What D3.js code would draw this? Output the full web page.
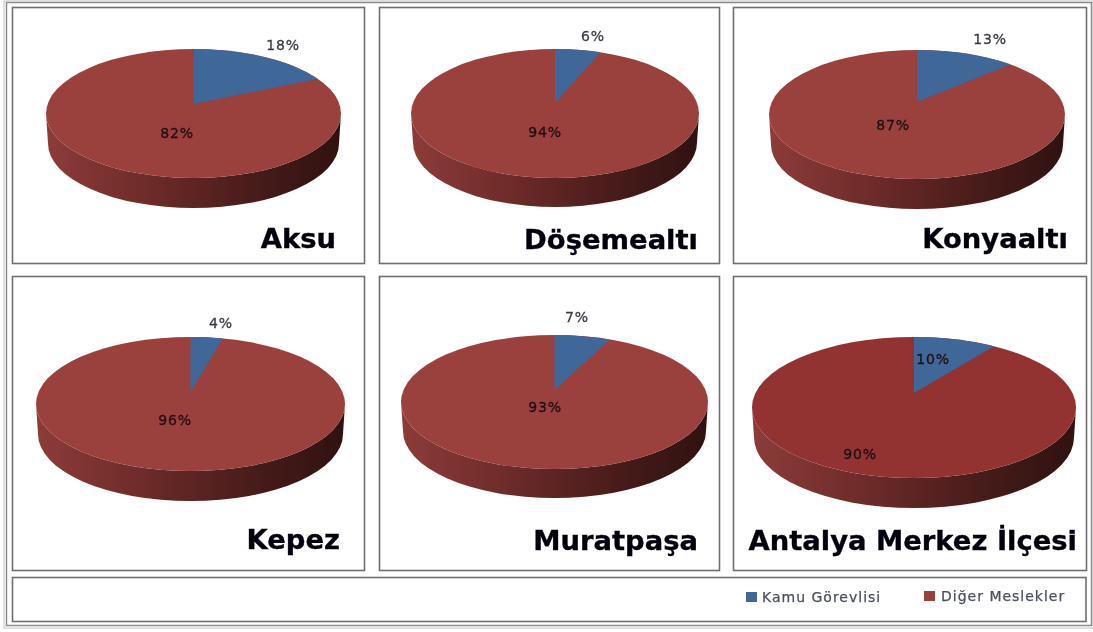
<!DOCTYPE html>
<html><head><meta charset="utf-8">
<script src="https://cdn.jsdelivr.net/npm/d3@7"></script>
<style>html,body{margin:0;padding:0;background:#fff}svg{display:block}</style></head>
<body><svg id="c" width="1093" height="632"></svg>
<script>
const districts = ["Aksu","Döşemealtı","Konyaaltı","Kepez","Muratpaşa","Antalya Merkez İlçesi"];
const kamuValues = [18,6,13,4,7,10];
const digerValues = [82,94,87,96,93,90];
const legendLabels = ["Kamu Görevlisi","Diğer Meslekler"];

const blue="#3f6797", red="#9a403d", redDark="#933331";
const panels=[
 {x:12,y:7,w:352,h:256,cx:193.5,top:49,ry:64.5,rx:147.5,hy:104,depth:30,tx:336,ty:248,lab:[[283,45],[177,133]]},
 {x:379,y:7,w:340,h:256,cx:555,top:49,ry:64.5,rx:144,hy:103,depth:29,tx:698,ty:249,lab:[[593,36],[545,132]]},
 {x:733,y:7,w:353,h:256,cx:917,top:50,ry:64.5,rx:148,hy:102,depth:30,tx:1068,ty:248,lab:[[990,39],[893,125]]},
 {x:12,y:276,w:352,h:294,cx:190.5,top:337,ry:67,rx:154.5,hy:392,depth:30,tx:340,ty:549,lab:[[221,323],[175,420]]},
 {x:379,y:276,w:340,h:294,cx:554.5,top:335,ry:67,rx:153.5,hy:390,depth:29,tx:698,ty:550,lab:[[577,317],[545,407]]},
 {x:733,y:276,w:353,h:294,cx:914,top:337,ry:70.5,rx:162,hy:393,depth:30,tx:1077,ty:550,lab:[[933,359],[860,454]],dark:true}
];
const svg=d3.select("#c");
const defs=svg.append("defs");
const g=defs.append("linearGradient").attr("id","side");
[[0,"#8c3c39"],[.35,"#6d2b29"],[.7,"#481c1a"],[1,"#2f1210"]].forEach(s=>g.append("stop").attr("offset",s[0]).attr("stop-color",s[1]));
const f=defs.append("filter").attr("id","soft").attr("x","-5%").attr("y","-20%").attr("width","110%").attr("height","140%");
f.append("feGaussianBlur").attr("stdDeviation",0.5);

function box(x,y,w,h,c,sw){svg.append("rect").attr("x",x).attr("y",y).attr("width",w).attr("height",h).attr("fill","none").attr("stroke",c).attr("stroke-width",sw);}
box(6.5,2.5,1085,623,"#8a8a8a",1.5);
box(4,1,1089,627,"#c4c4c4",1);
panels.forEach(p=>box(p.x+.5,p.y+.5,p.w,p.h,"#6f6f6f",1.6));
box(12.5,577.5,1073.5,44,"#6f6f6f",1.6);

const pie=d3.pie().sort(null);
panels.forEach((p,i)=>{
  const vals=[kamuValues[i],digerValues[i]];
  const arcs=pie(vals);
  const cy=p.top+p.ry, k=(cy-p.hy)/p.ry;
  const proj=a=>{const sx=Math.sin(a),sy=Math.cos(a),d=1+k*sy;
    return [p.cx+p.rx*sx*Math.sqrt(1-k*k)/d, cy-p.ry*(sy+k)/d];};
  svg.append("path").attr("fill","url(#side)")
    .attr("d",`M${p.cx-p.rx},${cy}A${p.rx},${p.ry} 0 0 0 ${p.cx+p.rx},${cy}L${p.cx+p.rx-2},${cy+p.depth}A${p.rx-2},${p.ry} 0 0 1 ${p.cx-p.rx+2},${cy+p.depth}Z`);
  svg.append("ellipse").attr("cx",p.cx).attr("cy",cy).attr("rx",p.rx).attr("ry",p.ry).attr("fill",p.dark?redDark:red);
  const e=proj(arcs[0].endAngle), s=proj(arcs[0].startAngle);
  svg.append("path").attr("fill",blue)
    .attr("d",`M${p.cx},${p.hy}L${s[0]},${s[1]}A${p.rx},${p.ry} 0 0 1 ${e[0]},${e[1]}Z`);
  [kamuValues[i],digerValues[i]].forEach((v,j)=>{
    const col=j==1||p.dark?"#1f0f0e":"#3a3a44";
    svg.append("text").attr("x",p.lab[j][0]).attr("y",p.lab[j][1]+5)
    .attr("text-anchor","middle").attr("font-family","DejaVu Sans, sans-serif").attr("font-size",14).attr("letter-spacing",0.8)
    .attr("fill",col).attr("stroke",col).attr("stroke-width",0.3).attr("filter","url(#soft)").text(v+"%");
  });
  svg.append("text").attr("x",p.tx).attr("y",p.ty).attr("text-anchor","end")
    .attr("font-family","DejaVu Sans, sans-serif").attr("font-weight",700).attr("font-size",27.4)
    .attr("fill","#050510").attr("stroke","#050510").attr("stroke-width",0.35).attr("filter","url(#soft)").text(districts[i]);
});
const leg=[[746,597,blue,762],[924,596,red,941]];
legendLabels.forEach((t,i)=>{
  svg.append("rect").attr("x",leg[i][0]).attr("y",leg[i][1]-5).attr("width",11).attr("height",10).attr("fill",leg[i][2]);
  svg.append("text").attr("x",leg[i][3]).attr("y",leg[i][1]+5).attr("font-family","DejaVu Sans, sans-serif").attr("font-size",14).attr("letter-spacing",1)
    .attr("fill","#4a4f5c").attr("stroke","#4a4f5c").attr("stroke-width",0.25).attr("filter","url(#soft)").text(t);
});
</script></body></html>
